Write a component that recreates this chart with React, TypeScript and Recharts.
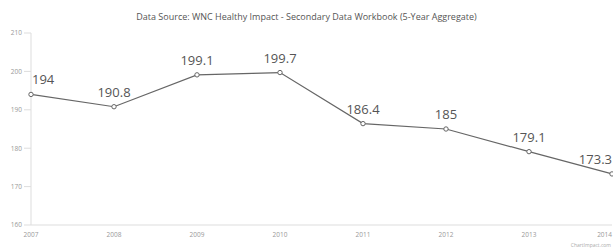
import React from "react";
import { LineChart, Line, XAxis, YAxis, LabelList } from "recharts";

const years = ["2007", "2008", "2009", "2010", "2011", "2012", "2013", "2014"];
const values = [194, 190.8, 199.1, 199.7, 186.4, 185, 179.1, 173.3];
const yTicks = [160, 170, 180, 190, 200, 210];
const title = "Data Source: WNC Healthy Impact - Secondary Data Workbook (5-Year Aggregate)";
const credit = "ChartImpact.com";

const data = years.map((y, i) => ({ year: y, value: values[i] }));

const W = 613;
const H = 249;
const PLOT_LEFT = 31;
const PLOT_RIGHT = 612;
const FONT = "'Open Sans', sans-serif";

const XTick = (props: any) => {
  const { x, y, payload, index } = props;
  const last = index === years.length - 1;
  return (
    <text
      x={last ? PLOT_RIGHT : x}
      y={y - 2}
      textAnchor={last ? "end" : "middle"}
      dominantBaseline="hanging"
      fontSize={6.5}
      fill="#999"
      fontFamily={FONT}
    >
      {payload.value}
    </text>
  );
};

const ValueLabel = (props: any) => {
  const { x, y, value } = props;
  const s = String(value);
  const w = s.length * 7.2;
  let anchor: "middle" | "start" | "end" = "middle";
  let tx = x;
  if (x - w / 2 < PLOT_LEFT) {
    anchor = "start";
    tx = x + 1;
  } else if (x + w / 2 > PLOT_RIGHT) {
    anchor = "end";
    tx = PLOT_RIGHT;
  }
  return (
    <text
      x={tx}
      y={y - 10}
      textAnchor={anchor}
      fontSize={13}
      fill="#555"
      fontFamily={FONT}
    >
      {s}
    </text>
  );
};

export default function App() {
  return (
    <div style={{ position: "absolute", left: 0, top: 0, width: W, height: H, background: "#fff", fontFamily: FONT }}>
      <div
        style={{
          position: "absolute",
          left: 0,
          top: 10,
          width: W,
          textAlign: "center",
          fontSize: 9,
          color: "#555",
        }}
      >
        {title}
      </div>
      <LineChart width={W} height={H} data={data} margin={{ top: 33, right: 1, left: 0, bottom: 0 }}>
        <XAxis
          dataKey="year"
          height={24}
          interval={0}
          tickLine={false}
          axisLine={{ stroke: "#ddd" }}
          tick={<XTick />}
        />
        <YAxis
          width={31}
          domain={[160, 210]}
          ticks={yTicks}
          interval={0}
          tickSize={7}
          tickLine={{ stroke: "#ddd" }}
          axisLine={{ stroke: "#ddd" }}
          tick={{ fontSize: 6.5, fill: "#999", fontFamily: FONT }}
          tickMargin={2}
        />
        <Line
          type="linear"
          dataKey="value"
          stroke="#666"
          strokeWidth={1.2}
          dot={{ r: 2.2, fill: "#fff", stroke: "#666", strokeWidth: 1 }}
          isAnimationActive={false}
        >
          <LabelList dataKey="value" content={<ValueLabel />} />
        </Line>
      </LineChart>
      <div
        style={{
          position: "absolute",
          right: 2,
          top: 242,
          fontSize: 5,
          lineHeight: "6px",
          color: "#aaa",
        }}
      >
        {credit}
      </div>
    </div>
  );
}
